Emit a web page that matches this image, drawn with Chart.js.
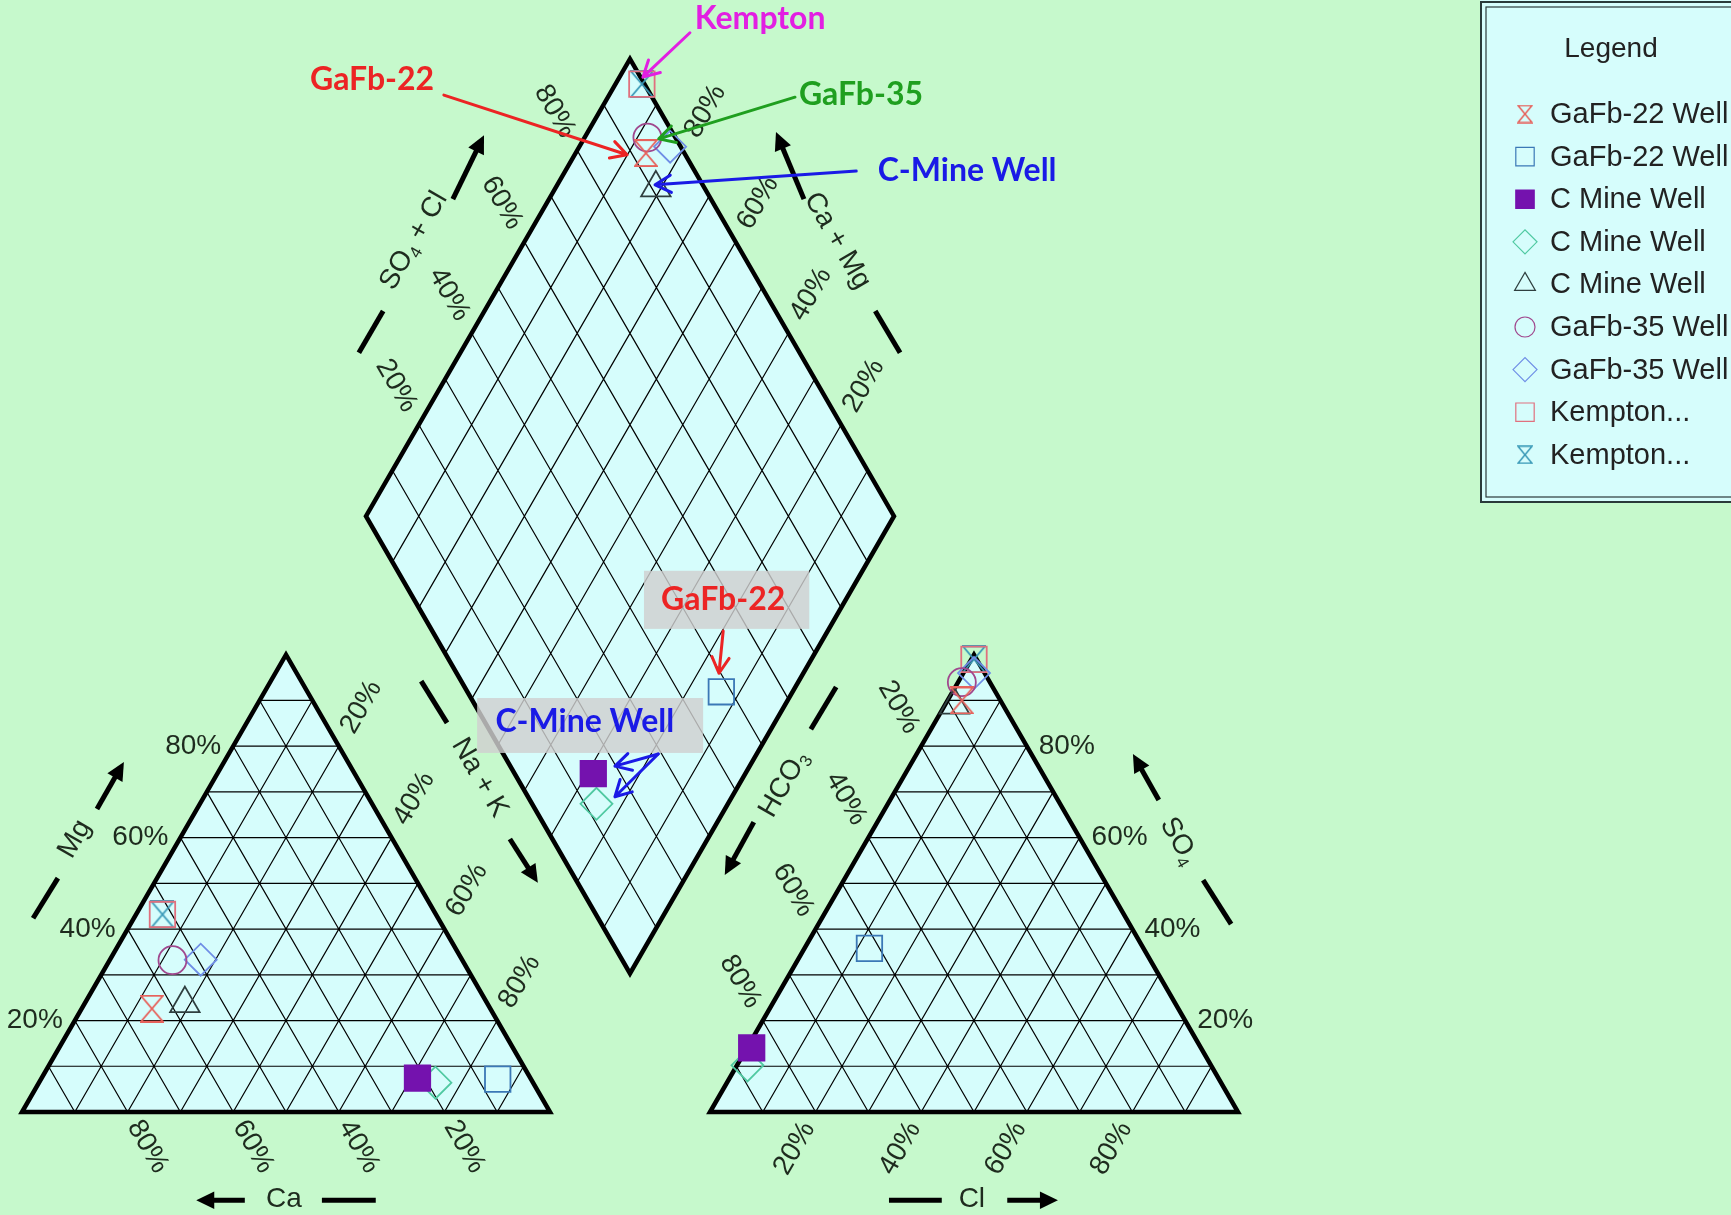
<!DOCTYPE html>
<html>
<head>
<meta charset="utf-8">
<script src="https://cdn.jsdelivr.net/npm/chart.js@4.4.1/dist/chart.umd.min.js"></script>
<style>
html, body { margin: 0; padding: 0; background: #c6f9cc; overflow: hidden; }
canvas { display: block; }
</style>
</head>
<body>
<canvas id="piper" width="1731" height="1215"></canvas>
<script>
// samples, in legend order
var sampleNames = ['GaFb-22 Well', 'GaFb-22 Well', 'C Mine Well', 'C Mine Well', 'C Mine Well',
                   'GaFb-35 Well', 'GaFb-35 Well', 'Kempton...', 'Kempton...'];
// cations, % of meq
var caPct  = [64.1, 6.3, 21.4, 18.5, 57.3, 54.9, 49.5, 51.8, 51.8];
var mgPct  = [22.6, 7.2, 7.4, 6.4, 23.7, 33.2, 33.3, 43.2, 43.2];
var naKPct = [13.3, 86.5, 71.2, 75.1, 19.0, 11.9, 17.2, 5.0, 5.0];
// anions, % of meq
var hco3Pct = [7.3, 51.9, 85.1, 87.8, 9.2, 5.3, 2.0, 0.5, 0.5];
var so4Pct  = [90.0, 35.8, 14.0, 10.2, 89.0, 94.0, 96.0, 99.0, 99.0];
var clPct   = [2.7, 12.3, 0.9, 2.0, 1.8, 0.7, 2.0, 0.5, 0.5];
var tickValues = [20, 40, 60, 80];
var tickLabels = ['20%', '40%', '60%', '80%'];

var markerStyle = ['hourglass', 'rect', 'rect', 'rectRot', 'triangle', 'circle', 'rectRot', 'rect', 'hourglass'];
var markerColor = ['#e6625c', '#3b78b6', '#7412ae', '#4fc9a1', '#2f3f3f', '#a0488e', '#6f8ee6', '#e0707e', '#3b9ab8'];
var markerFilled = [false, false, true, false, false, false, false, false, false];
var markerRadius = [12, 18, 18, 16, 17, 14, 16, 18, 12];

var BG = '#c6f9cc', FILL = '#d6fdfc', INK = '#1e2b1e';
var SANS = '"Liberation Sans", Arial, sans-serif';

// geometry: one triangle side = 100 units
var GAP = 30.3;
var H = Math.sqrt(3) / 2;
function catXY(mg, nak) { return {x: nak + mg / 2, y: mg * H}; }
function anXY(so4, cl) { return {x: 100 + GAP + cl + so4 / 2, y: so4 * H}; }
function diaXY(nak, sc) {
  var cm = 100 - nak;
  return {x: 100 + GAP / 2 + (sc - cm) / 2, y: GAP * H + (cm + sc) * H};
}

function buildGrid() {
  var thin = [], thick = [];
  function seg(arr, a, b) { arr.push(a, b, {x: b.x, y: null}); }
  for (var k = 1; k < 10; k++) {
    var f = k * 10;
    seg(thin, catXY(f, 0), catXY(f, 100 - f));
    seg(thin, catXY(0, f), catXY(100 - f, f));
    seg(thin, catXY(0, 100 - f), catXY(100 - f, 0));
    seg(thin, anXY(f, 0), anXY(f, 100 - f));
    seg(thin, anXY(0, f), anXY(100 - f, f));
    seg(thin, anXY(0, 100 - f), anXY(100 - f, 0));
    seg(thin, diaXY(f, 0), diaXY(f, 100));
    seg(thin, diaXY(0, f), diaXY(100, f));
  }
  var polys = [
    [catXY(0, 0), catXY(0, 100), catXY(100, 0)],
    [anXY(0, 0), anXY(0, 100), anXY(100, 0)],
    [diaXY(100, 0), diaXY(100, 100), diaXY(0, 100), diaXY(0, 0)]
  ];
  polys.forEach(function (p) {
    p.concat([p[0], p[1]]).forEach(function (q) { thick.push(q); });
    thick.push({x: p[1].x, y: null});
  });
  return {thin: thin, thick: thick, polys: polys};
}
var grid = buildGrid();

function hourglass(color, w, h, lw) {
  var c = document.createElement('canvas');
  c.width = w; c.height = h;
  var g = c.getContext('2d');
  g.strokeStyle = color; g.lineWidth = lw;
  g.beginPath();
  g.moveTo(1, 1); g.lineTo(w - 1, 1); g.lineTo(1, h - 1); g.lineTo(w - 1, h - 1); g.closePath();
  g.stroke();
  return c;
}

function pointStyleFor(i, small) {
  if (markerStyle[i] !== 'hourglass') return markerStyle[i];
  return small ? hourglass(markerColor[i], 16, 19, 1.5) : hourglass(markerColor[i], 24, 28, 1.8);
}

var sampleSets = sampleNames.map(function (name, i) {
  return {
    label: name,
    data: [catXY(mgPct[i], naKPct[i]), anXY(so4Pct[i], clPct[i]), diaXY(naKPct[i], so4Pct[i] + clPct[i])],
    pointStyle: pointStyleFor(i, false),
    pointRadius: markerRadius[i],
    borderColor: markerColor[i],
    backgroundColor: markerFilled[i] ? markerColor[i] : 'rgba(0,0,0,0)',
    pointBorderWidth: 1.8,
    order: 0
  };
});

var gridSets = [
  {label: 'grid', data: grid.thin, showLine: true, borderColor: '#000', borderWidth: 1.2, pointRadius: 0, order: 10},
  {label: 'frame', data: grid.thick, showLine: true, borderColor: '#000', borderWidth: 4.5,
   borderJoinStyle: 'miter', pointRadius: 0, order: 9}
];

// axis titles, positions in chart units
var axisTitles = [
  {parts: [['Mg']], at: [10.0, 51.7], rot: -60, dash: [[2.1, 36.7], [6.8, 44.3]], arrow: [[14.2, 57.4], [19.3, 66.3]]},
  {parts: [['Ca']], at: [49.6, -16.6], rot: 0, dash: [[56.8, -16.7], [67.0, -16.7]], arrow: [[42.2, -16.7], [33.0, -16.7]]},
  {parts: [['Na + K']], at: [86.7, 63.3], rot: 60, dash: [[75.6, 81.6], [80.5, 73.7]], arrow: [[92.4, 51.7], [97.7, 43.4]]},
  {parts: [['HCO'], ['3', 1]], at: [144.3, 62.1], rot: -60, dash: [[154.2, 80.5], [149.4, 72.5]], arrow: [[138.6, 54.9], [133.1, 44.9]]},
  {parts: [['SO'], ['4', 1]], at: [219.1, 51.3], rot: 60, dash: [[223.7, 43.9], [229.0, 35.6]], arrow: [[215.3, 59.1], [210.4, 67.8]]},
  {parts: [['Cl']], at: [179.9, -16.6], rot: 0, dash: [[164.2, -16.7], [174.2, -16.7]], arrow: [[186.6, -16.7], [196.2, -16.7]]},
  {parts: [['SO'], ['4', 1], [' + Cl']], at: [74.2, 165.0], rot: -60, dash: [[68.4, 151.7], [63.8, 143.8]], arrow: [[81.6, 172.9], [87.5, 185.0]]},
  {parts: [['Ca + Mg']], at: [154.4, 165.0], rot: 60, dash: [[161.6, 151.7], [166.3, 143.8]], arrow: [[148.1, 172.9], [142.8, 185.6]]}
];

var callouts = [
  {text: 'Kempton', color: '#e21fe2', at: [139.8, 207.0], arrows: [[[126.5, 204.4], [117.6, 196.0]]]},
  {text: 'GaFb-22', color: '#ec2424', at: [66.3, 195.6], arrows: [[[79.9, 192.6], [114.6, 181.3]]]},
  {text: 'GaFb-35', color: '#1f9f1f', at: [158.9, 192.6], arrows: [[[146.4, 192.2], [120.6, 184.3]]]},
  {text: 'C-Mine Well', color: '#1a1ae6', at: [179.0, 178.2], arrows: [[[158.0, 178.2], [119.9, 175.6]]]},
  {text: 'GaFb-22', color: '#ec2424', at: [132.8, 97.0], box: [117.8, 102.5, 149.1, 91.5],
   arrows: [[[132.8, 91.1], [132.0, 83.1]]]},
  {text: 'C-Mine Well', color: '#1a1ae6', at: [106.6, 73.9], box: [86.2, 78.4, 129.0, 68.0],
   arrows: [[[120.5, 67.8], [112.3, 65.5]], [[120.5, 67.8], [112.3, 59.7]]]}
];

function px(chart, p) {
  return {x: chart.scales.x.getPixelForValue(p.x !== undefined ? p.x : p[0]),
          y: chart.scales.y.getPixelForValue(p.y !== undefined ? p.y : p[1])};
}

function rotText(ctx, text, x, y, deg, align) {
  ctx.save();
  ctx.translate(x, y);
  ctx.rotate(deg * Math.PI / 180);
  ctx.textAlign = align || 'center';
  ctx.textBaseline = 'middle';
  ctx.fillText(text, 0, 0);
  ctx.restore();
}

function richText(ctx, parts, x, y, deg, size) {
  ctx.save();
  ctx.translate(x, y);
  ctx.rotate(deg * Math.PI / 180);
  ctx.textBaseline = 'middle';
  ctx.textAlign = 'left';
  var w = 0;
  var ws = parts.map(function (p) {
    ctx.font = (p[1] ? Math.round(size * 0.62) : size) + 'px ' + SANS;
    var m = ctx.measureText(p[0]).width; w += m; return m;
  });
  var cx = -w / 2;
  parts.forEach(function (p, i) {
    ctx.font = (p[1] ? Math.round(size * 0.62) : size) + 'px ' + SANS;
    ctx.fillText(p[0], cx, p[1] ? size * 0.3 : 0);
    cx += ws[i];
  });
  ctx.restore();
}

function solidArrow(ctx, a, b, lw, head) {
  var ang = Math.atan2(b.y - a.y, b.x - a.x);
  ctx.lineWidth = lw;
  ctx.beginPath();
  ctx.moveTo(a.x, a.y);
  ctx.lineTo(b.x - Math.cos(ang) * head * 0.8, b.y - Math.sin(ang) * head * 0.8);
  ctx.stroke();
  ctx.beginPath();
  ctx.moveTo(b.x, b.y);
  ctx.lineTo(b.x - head * Math.cos(ang - 0.45), b.y - head * Math.sin(ang - 0.45));
  ctx.lineTo(b.x - head * Math.cos(ang + 0.45), b.y - head * Math.sin(ang + 0.45));
  ctx.closePath();
  ctx.fill();
}

function openArrow(ctx, a, b, lw, head) {
  var ang = Math.atan2(b.y - a.y, b.x - a.x);
  ctx.lineWidth = lw;
  ctx.lineCap = 'round';
  ctx.lineJoin = 'round';
  ctx.beginPath();
  ctx.moveTo(a.x, a.y);
  ctx.lineTo(b.x, b.y);
  ctx.moveTo(b.x - head * Math.cos(ang - 0.5), b.y - head * Math.sin(ang - 0.5));
  ctx.lineTo(b.x, b.y);
  ctx.lineTo(b.x - head * Math.cos(ang + 0.5), b.y - head * Math.sin(ang + 0.5));
  ctx.stroke();
}

function offset(p, dist, deg) {
  var r = deg * Math.PI / 180;
  return {x: p.x + dist * Math.cos(r), y: p.y + dist * Math.sin(r)};
}

var piperDecor = {
  id: 'piperDecor',
  beforeDraw: function (chart) {
    var ctx = chart.ctx;
    ctx.save();
    ctx.fillStyle = BG;
    ctx.fillRect(0, 0, chart.width, chart.height);
    ctx.fillStyle = FILL;
    grid.polys.forEach(function (poly) {
      ctx.beginPath();
      poly.forEach(function (q, i) {
        var p = px(chart, q);
        if (i === 0) ctx.moveTo(p.x, p.y); else ctx.lineTo(p.x, p.y);
      });
      ctx.closePath();
      ctx.fill();
    });
    ctx.restore();
  },
  beforeDatasetsDraw: function (chart) {
    var ctx = chart.ctx;
    ctx.save();
    ctx.fillStyle = INK;
    ctx.font = '28px ' + SANS;
    tickValues.forEach(function (v, i) {
      var t = tickLabels[i], p;
      // cation triangle
      p = px(chart, catXY(v, 0));
      rotText(ctx, t, p.x - 12, p.y, 0, 'right');
      p = offset(px(chart, catXY(100 - v, v)), 45, -60);
      rotText(ctx, t, p.x, p.y, -60);
      p = offset(px(chart, catXY(0, 100 - v)), 40, 60);
      rotText(ctx, t, p.x, p.y, 60);
      // anion triangle
      p = px(chart, anXY(v, 100 - v));
      rotText(ctx, t, p.x + 12, p.y, 0, 'left');
      p = offset(px(chart, anXY(100 - v, 0)), 45, -120);
      rotText(ctx, t, p.x, p.y, 60);
      p = offset(px(chart, anXY(0, v)), 42, 120);
      rotText(ctx, t, p.x, p.y, -60);
      // diamond, upper edges
      p = offset(px(chart, diaXY(0, v)), 45, -120);
      rotText(ctx, t, p.x, p.y, 60);
      p = offset(px(chart, diaXY(100 - v, 100)), 45, -60);
      rotText(ctx, t, p.x, p.y, -60);
    });
    ctx.strokeStyle = '#000';
    axisTitles.forEach(function (a) {
      ctx.fillStyle = INK;
      var c = px(chart, a.at);
      richText(ctx, a.parts, c.x, c.y, a.rot, 28);
      ctx.fillStyle = '#000';
      ctx.lineWidth = 5;
      ctx.lineCap = 'butt';
      var d0 = px(chart, a.dash[0]), d1 = px(chart, a.dash[1]);
      ctx.beginPath(); ctx.moveTo(d0.x, d0.y); ctx.lineTo(d1.x, d1.y); ctx.stroke();
      solidArrow(ctx, px(chart, a.arrow[0]), px(chart, a.arrow[1]), 5, 20);
    });
    ctx.restore();
  },
  afterDatasetsDraw: function (chart) {
    var ctx = chart.ctx;
    ctx.save();
    callouts.forEach(function (c) {
      if (c.box) {
        var b0 = px(chart, [c.box[0], c.box[1]]), b1 = px(chart, [c.box[2], c.box[3]]);
        ctx.fillStyle = 'rgba(208,208,208,0.82)';
        ctx.fillRect(b0.x, b0.y, b1.x - b0.x, b1.y - b0.y);
      }
      var p = px(chart, c.at);
      ctx.fillStyle = c.color;
      ctx.font = 'bold 32px Lato, "Open Sans", sans-serif';
      rotText(ctx, c.text, p.x, p.y, 0);
      ctx.strokeStyle = c.color;
      c.arrows.forEach(function (ar) {
        openArrow(ctx, px(chart, ar[0]), px(chart, ar[1]), 3, 18);
      });
    });
    ctx.restore();
  },
  afterDraw: function (chart) {
    var ctx = chart.ctx, x0 = chart.width - 251;
    ctx.save();
    ctx.fillStyle = FILL;
    ctx.fillRect(x0, 0, 260, 503);
    ctx.strokeStyle = '#2a3a3a';
    ctx.lineWidth = 2;
    ctx.strokeRect(x0 + 1, 2, 270, 500);
    ctx.lineWidth = 1.2;
    ctx.strokeRect(x0 + 6, 7, 270, 490);
    ctx.fillStyle = '#222';
    ctx.font = '28px ' + SANS;
    ctx.textAlign = 'center';
    ctx.textBaseline = 'middle';
    ctx.fillText('Legend', x0 + 131, 49);
    ctx.textAlign = 'left';
    ctx.font = '29px ' + SANS;
    sampleNames.forEach(function (name, i) {
      var y = 114 + i * 42.6;
      ctx.strokeStyle = markerColor[i];
      ctx.fillStyle = markerFilled[i] ? markerColor[i] : 'rgba(0,0,0,0)';
      Chart.helpers.drawPoint(ctx, {
        pointStyle: pointStyleFor(i, true),
        radius: markerStyle[i] === 'circle' ? 10 : (markerStyle[i] === 'rect' ? 13 : 12),
        rotation: 0,
        borderWidth: 1.5
      }, x0 + 45, y);
      ctx.fillStyle = '#222';
      ctx.fillText(name, x0 + 70, y + 1);
    });
    ctx.restore();
  }
};

var ctx = document.getElementById('piper');
new Chart(ctx, {
  type: 'scatter',
  data: {datasets: sampleSets.concat(gridSets)},
  options: {
    responsive: false,
    animation: false,
    events: [],
    layout: {padding: 0, autoPadding: false},
    plugins: {legend: {display: false}, tooltip: {enabled: false}},
    scales: {
      x: {type: 'linear', min: -22 / 5.28, max: (1731 - 22) / 5.28, display: false},
      y: {type: 'linear', min: -(1215 - 1112) / 5.28, max: 1112 / 5.28, display: false}
    }
  },
  plugins: [piperDecor]
});
</script>
</body>
</html>
